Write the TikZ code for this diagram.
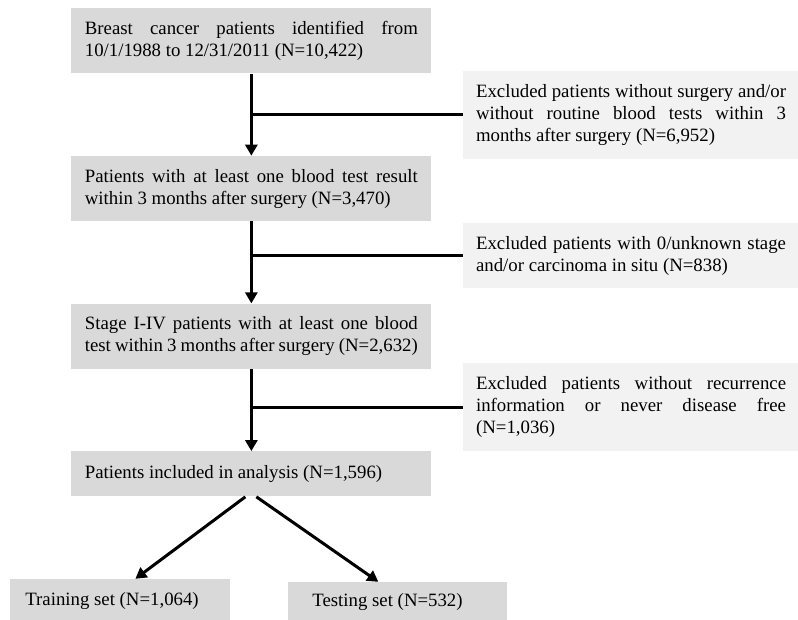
\documentclass[tikz,border=0pt]{standalone}
\usepackage{fontspec}
\setmainfont{Liberation Serif}
\usetikzlibrary{calc}
\usetikzlibrary{shapes.geometric, arrows.meta, positioning}
\tolerance=10000
\hbadness=10000
\hfuzz=20pt
\hyphenpenalty=10000
\exhyphenpenalty=10000

\begin{document}
\begin{tikzpicture}[
    node distance=1.64cm, % gap between main boxes
    box/.style={
      rectangle,
      fill=gray!30,
      text width=6.66cm,
      inner xsep=0.27cm,
      inner ysep=0.1cm,
      minimum height=1.3cm,
      align=justify,
      font=\fontsize{10.7}{12.5}\selectfont
    },
    side/.style={
      box,
      fill=gray!10,
      text width=6.2cm,
      inner xsep=0.26cm
    },
    line/.style={
      line width=0.06cm
    },
    arrow/.style={
      line,
      -{Triangle[length=0.22cm, width=0.24cm]}
    }
  ]

  % page size
  \useasboundingbox (0,0) rectangle (15.96,-12.38);

  % main column
  \node[box, anchor=north west] (identified) at (1.42,-0.16) {Breast cancer patients identified from\linebreak 10/1/1988 to 12/31/2011 (N=10,422)};
  \node[box, below=of identified] (bloodtest) {Patients with at least one blood test result\linebreak within 3 months after surgery (N=3,470)};
  \node[box, below=of bloodtest] (stage) {Stage I-IV patients with at least one blood\linebreak test within 3 months after surgery (N=2,632)};
  \node[box, below=of stage, minimum height=0.9cm] (included) {Patients included in analysis (N=1,596)};

  % split
  \node[box, below=1.64cm of included, xshift=-2.62cm, text width=3.8cm, inner xsep=0.3cm, minimum height=0.86cm] (training) {Training set (N=1,064)};
  \node[box, below=1.7cm of included, xshift=2.93cm, text width=3.42cm, inner xsep=0.48cm, minimum height=0.8cm] (testing) {Testing set (N=532)};

  % exclusion boxes
  \node[side, anchor=west, minimum height=1.76cm] (exclsurgery) at ($(identified.south east)!0.5!(bloodtest.north east)+(0.62,0)$) {Excluded patients without surgery and/or\linebreak without routine blood tests within 3\linebreak months after surgery (N=6,952)};
  \node[side, anchor=west] (exclstage) at ($(bloodtest.south east)!0.5!(stage.north east)+(0.62,0.13)$) {Excluded patients with 0/unknown stage\linebreak and/or carcinoma in situ (N=838)};
  \node[side, anchor=west, minimum height=1.76cm] (exclrecur) at ($(stage.south east)!0.5!(included.north east)+(0.62,0.06)$) {Excluded patients without recurrence\linebreak information or never disease free\linebreak (N=1,036)};

  % arrows
  \draw[arrow] (identified) -- (bloodtest);
  \draw[arrow] (bloodtest) -- (stage);
  \draw[arrow] (stage) -- (included);
  \draw[line] (exclsurgery.west) -- (exclsurgery.west -| identified.south);
  \draw[line] (exclstage.west) -- (exclstage.west -| bloodtest.south);
  \draw[line] (exclrecur.west) -- (exclrecur.west -| stage.south);
  \draw[arrow] ([xshift=-0.12cm]included.south) -- ([xshift=0.3cm]training.north);
  \draw[arrow] ([xshift=0.1cm]included.south) -- ([xshift=-0.39cm]testing.north);

\end{tikzpicture}
\end{document}
